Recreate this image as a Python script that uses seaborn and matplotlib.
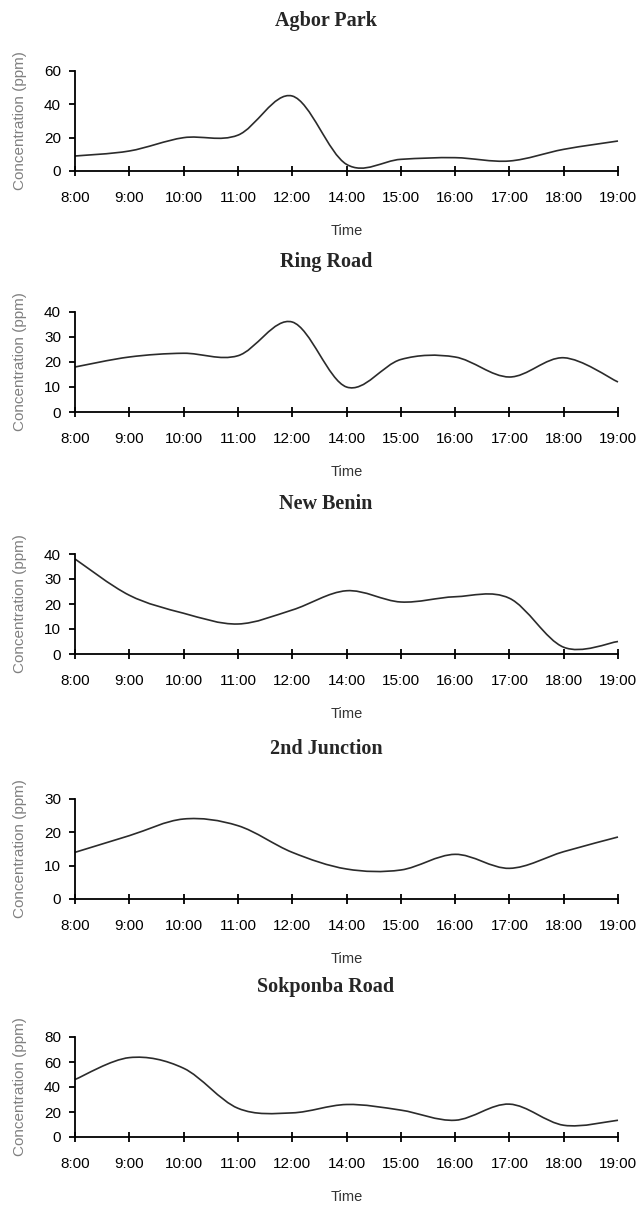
import numpy as np
import matplotlib
matplotlib.use("Agg")
import matplotlib.pyplot as plt
from matplotlib.path import Path
from matplotlib.patches import PathPatch
import seaborn as sns


# -------------------------------
# Data
# -------------------------------
times = ["8:00", "9:00", "10:00", "11:00", "12:00", "14:00",
         "15:00", "16:00", "17:00", "18:00", "19:00"]

agbor_park = [9, 12, 20, 21.5, 45, 4, 7, 8, 6, 13, 18]
ring_road = [18, 22, 23.5, 22.5, 36, 10, 21, 22, 14, 21.7, 12]
new_benin = [38, 23.5, 16.3, 12, 17.6, 25.3, 20.8, 22.9, 22.3, 2.7, 5]
second_junction = [14, 19, 24, 22, 14, 9, 8.7, 13.4, 9.2, 14.2, 18.6]
sokponba_road = [46, 63.5, 55, 23, 19.3, 26, 21.5, 13.4, 26.3, 9.4, 13.4]

sites = ["Agbor Park", "Ring Road", "New Benin", "2nd Junction", "Sokponba Road"]
series = [agbor_park, ring_road, new_benin, second_junction, sokponba_road]
y_max = [60, 40, 40, 30, 80]
y_step = [20, 10, 10, 10, 20]


def smooth_path(xs, ys):
    # Excel-style smoothed line: Catmull-Rom segments as cubic Bezier curves
    pts = np.column_stack([xs, ys]).astype(float)
    n = len(pts)
    verts = [pts[0]]
    codes = [Path.MOVETO]
    for i in range(n - 1):
        p0 = pts[i - 1] if i > 0 else pts[i]
        p1 = pts[i]
        p2 = pts[i + 1]
        p3 = pts[i + 2] if i + 2 < n else pts[i + 1]
        verts += [p1 + (p2 - p0) / 6, p2 - (p3 - p1) / 6, p2]
        codes += [Path.CURVE4] * 3
    return Path(verts, codes)


sns.set_style("ticks")
plt.rcParams["font.family"] = ["Liberation Sans", "DejaVu Sans"]

W, H = 643, 1207
fig = plt.figure(figsize=(W / 100, H / 100), dpi=100)

ax_left, ax_width, ax_height = 75, 543, 100
tops = [71, 312, 554, 799, 1037]

x = np.arange(len(times))

for site, vals, top, ymax, step in zip(sites, series, tops, y_max, y_step):
    ax = fig.add_axes([ax_left / W, 1 - (top + ax_height) / H,
                       ax_width / W, ax_height / H])

    ax.add_patch(PathPatch(smooth_path(x, vals), facecolor="none",
                           edgecolor="#2b2b2b", lw=1.2, clip_on=False))

    ax.set_xlim(0, len(times) - 1)
    ax.set_ylim(0, ymax)
    ax.set_xticks(x)
    ax.set_xticklabels(times)
    ax.set_yticks(np.arange(0, ymax + 1, step))

    sns.despine(ax=ax)
    for side in ["left", "bottom"]:
        ax.spines[side].set_color("black")
        ax.spines[side].set_linewidth(1.3)

    ax.tick_params(axis="x", direction="inout", length=7, width=1.3,
                   pad=11, labelsize=11, colors="black")
    ax.tick_params(axis="y", direction="out", length=4, width=1.3,
                   pad=6, labelsize=11, colors="black")

    ax.set_xlabel("Time", fontsize=10.5, color="#333333")
    ax.xaxis.set_label_coords(0.5, -0.53)
    ax.set_ylabel("Concentration (ppm)", fontsize=11, color="#808080")
    ax.yaxis.set_label_coords(-0.088, 0.5)

    fig.text(326 / W, 1 - (top - 50) / H, site, ha="center", va="center",
             fontsize=14.5, fontweight="bold", family="Liberation Serif")

fig.savefig("out.png", dpi=100)
